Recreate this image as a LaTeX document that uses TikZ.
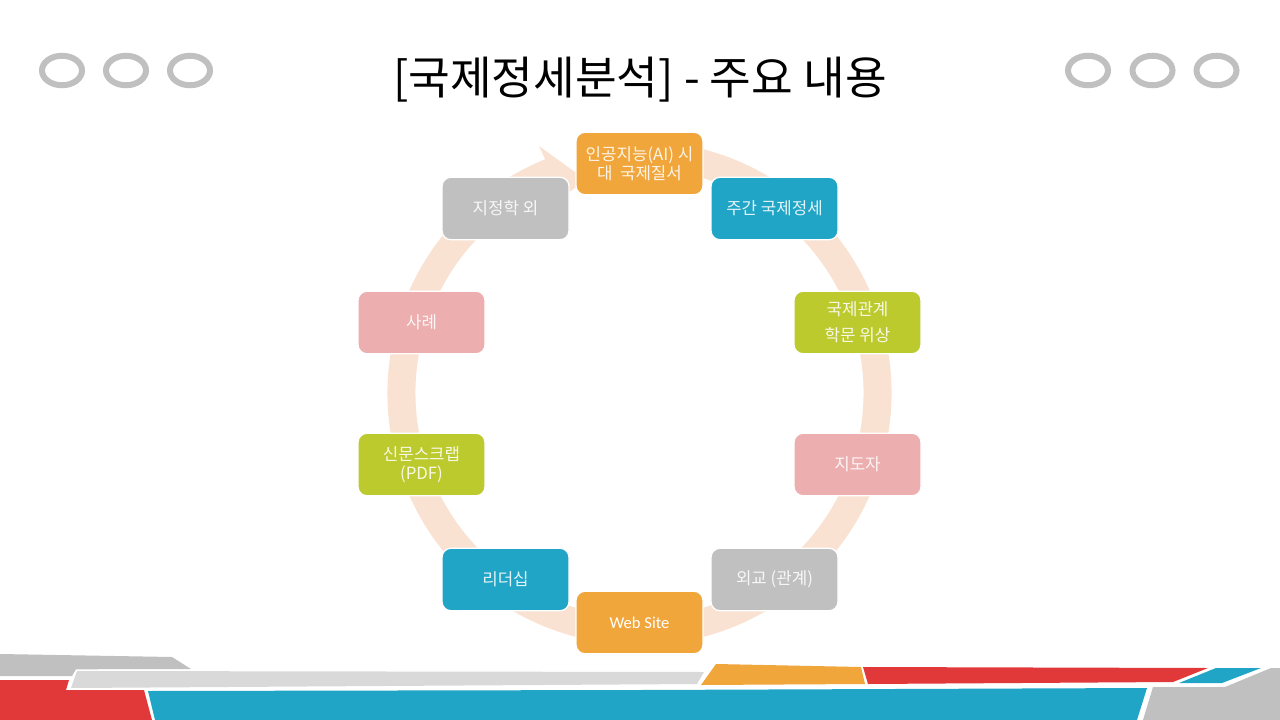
\documentclass[tikz,border=0pt]{standalone}
\usepackage{fontspec}
\usetikzlibrary{shapes.geometric}
\setmainfont{Noto Sans CJK KR}
\newfontfamily\latinf{Carlito}
\definecolor{corange}{HTML}{F0A63B}
\definecolor{cteal}{HTML}{20A5C6}
\definecolor{cgreen}{HTML}{BCCA2E}
\definecolor{cpink}{HTML}{ECAEAF}
\definecolor{cgray}{HTML}{C0C0C0}
\definecolor{cring}{HTML}{FAE2D2}
\definecolor{cred}{HTML}{E1393A}
\definecolor{clight}{HTML}{D9D9D9}
\tikzset{
  cyc/.style={draw=white,line width=1.3pt,rounded corners=9pt,minimum width=127pt,minimum height=62.5pt,inner sep=0pt,align=center,text=white,text opacity=0.88,font=\fontsize{16.8pt}{19.5pt}\selectfont},
  oval/.style={draw=cgray,line width=6pt,ellipse,minimum width=40pt,minimum height=29.5pt,inner sep=0pt},
}
\begin{document}
\begin{tikzpicture}[x=1pt,y=-1pt]
\useasboundingbox (0,0) rectangle (1280,720);
\fill[white] (0,0) rectangle (1280,720);
% bottom band
\fill[cgray] (0,654)--(172,657)--(191,669)--(76,669.3)--(72,676)--(0,676)--cycle;
\fill[cred] (0,680)--(69,680)--(66,690)--(144,690)--(152,720)--(0,720)--cycle;
\fill[clight] (77,671)--(704,672)--(697,684)--(71,688)--cycle;
\fill[cteal] (148,691)--(640,690)--(1147,688)--(1137,720)--(155,720)--cycle;
\fill[corange] (716,664)--(861,667)--(865,684)--(701,685)--cycle;
\fill[cred] (863,667)--(1208,668)--(1173,682)--(868,684)--cycle;
\fill[cteal] (1216,668)--(1261,668)--(1222,683)--(1179,683)--cycle;
\fill[cgray] (1153,687)--(1225,687)--(1271,668)--(1280,668)--(1280,720)--(1143,720)--cycle;
% ovals
\foreach \n/\x in {a/62,b/126,c/190,d/1088,e/1152.5,f/1216.5}
  \node[oval] (oval\n) at (\x,70.5) {};
% title
\node[font=\fontsize{45.3pt}{50pt}\selectfont,text=black,inner sep=0pt] (title) at (640,79.5) {[국제정세분석] - 주요 내용};
% ring
\fill[cring]
  ({639.5+252*cos(77)},{393-252*sin(77)})
  arc[start angle=-77,end angle=248,radius=252]
  -- (539,146) -- (586,180) -- (561,198)
  -- ({639.5+224*cos(112)},{393-224*sin(112)})
  arc[start angle=248,end angle=-77,radius=224]
  -- cycle;
% nodes
\node[cyc,fill=corange] (n1) at (639.5,163.5) {인공지능(AI) 시\\대\ \ 국제질서};
\node[cyc,fill=cteal] (n2) at (774.5,208.5) {주간 국제정세};
\node[cyc,fill=cgreen,font=\fontsize{16.8pt}{26pt}\selectfont] (n3) at (857.5,322.5) {국제관계\\학문 위상};
\node[cyc,fill=cpink] (n4) at (857.5,464.5) {지도자};
\node[cyc,fill=cgray] (n5) at (774.5,579.5) {외교 (관계)};
\node[cyc,fill=corange,text opacity=1] (n6) at (639.5,622.5) {\latinf\fontsize{16.6pt}{20pt}\selectfont Web Site};
\node[cyc,fill=cteal] (n7) at (505.5,579.5) {리더십};
\node[cyc,fill=cgreen] (n8) at (421.5,464.5) {신문스크랩\\(PDF)};
\node[cyc,fill=cpink] (n9) at (421.5,322.5) {사례};
\node[cyc,fill=cgray] (n10) at (505.5,208.5) {지정학 외};
\end{tikzpicture}
\end{document}
